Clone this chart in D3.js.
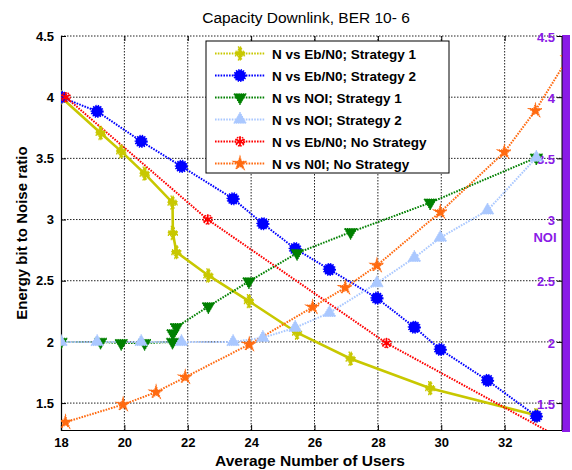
<!DOCTYPE html>
<html><head><meta charset="utf-8">
<script src="https://cdn.jsdelivr.net/npm/d3@7"></script>
<style>
body{margin:0;background:#fff;}
svg text{font-family:"Liberation Sans",Arial,sans-serif;}
</style></head>
<body><svg id="c" width="572" height="470"></svg>
<script>
// ---- data ----
const xTicks = [18,20,22,24,26,28,30,32];
const yTicks = [1.5,2,2.5,3,3.5,4,4.5];
const rightTicks = [1.5,2,2.5,3,3.5,4,4.5];
const legendLabels = ["N vs Eb/N0; Strategy 1","N vs Eb/N0; Strategy 2","N vs NOI; Strategy 1","N vs NOI; Strategy 2","N vs Eb/N0; No Strategy","N vs N0I; No Strategy"];

const usersS1 = [18, 19.25, 19.9, 20.64, 21.52, 21.53, 21.64, 22.65, 23.93, 25.45, 27.14, 29.65, 33.0];
const ebS1 = [4.0, 3.707, 3.557, 3.375, 3.138, 2.89, 2.734, 2.543, 2.333, 2.075, 1.862, 1.622, 1.40];
const noiS1 = [2.0, 2.0, 1.99, 1.99, 2.0, 2.07, 2.12, 2.29, 2.494, 2.726, 2.897, 3.138, 3.506];

const usersS2 = [18, 19.14, 20.53, 21.8, 23.43, 24.37, 25.39, 26.47, 27.97, 29.15, 29.97, 31.46, 33.0];
const ebS2 = [4.0, 3.884, 3.639, 3.435, 3.17, 2.966, 2.762, 2.592, 2.358, 2.12, 1.938, 1.685, 1.393];
const noiS2 = [2.0, 2.0, 2.0, 2.0, 2.0, 2.034, 2.116, 2.238, 2.48, 2.688, 2.852, 3.075, 3.506];

const usersNoEb = [18.15, 22.63, 28.27, 34.0];
const ebNo = [4.0, 3.0, 1.99, 1.18];

const usersNoNoi = [18.14, 19.96, 21.0, 21.92, 23.94, 25.94, 26.97, 27.97, 29.97, 31.99, 32.97, 34.0];
const noiNo = [1.344, 1.488, 1.589, 1.712, 1.979, 2.284, 2.443, 2.625, 3.061, 3.551, 3.89, 4.32];

// ---- layout ----
const svg = d3.select("#c");
const L = 61, R = 562, T = 36, B = 430;
const x = d3.scaleLinear().domain([18, 33.81]).range([L, R]);
const y = d3.scaleLinear().domain([1.28, 4.5]).range([B, T]);
const yR = d3.scaleLinear().domain([1.28, 4.5]).range([B, T]);
const PURPLE = "#8a1be6";

svg.append("defs").append("clipPath").attr("id","clip")
  .append("rect").attr("x",L).attr("y",T).attr("width",R-L).attr("height",B-T);

// grid
const grid = svg.append("g").attr("stroke","#222").attr("stroke-width",1).attr("stroke-dasharray","1.5,1.5");
xTicks.forEach(t=>{ if(t>18) grid.append("line").attr("x1",x(t)).attr("x2",x(t)).attr("y1",T).attr("y2",B); });
yTicks.forEach(t=>{ grid.append("line").attr("x1",L).attr("x2",R).attr("y1",y(t)).attr("y2",y(t)); });

// axes
const gx = svg.append("g").attr("transform",`translate(0,${B})`)
  .call(d3.axisBottom(x).tickValues(xTicks).tickSize(-5).tickPadding(8).tickFormat(d3.format("d")));
const gxt = svg.append("g").attr("transform",`translate(0,${T})`)
  .call(d3.axisTop(x).tickValues(xTicks).tickSize(-5).tickFormat(""));
gxt.select(".domain").remove();
const gy = svg.append("g").attr("transform",`translate(${L},0)`)
  .call(d3.axisLeft(y).tickValues(yTicks).tickSize(-5).tickPadding(7).tickFormat(d=>d3.format("")(d)));
const gr = svg.append("g").attr("transform",`translate(${R},0)`)
  .call(d3.axisLeft(yR).tickValues(rightTicks).tickSize(5).tickPadding(2).tickFormat(d=>d3.format("")(d)));
[gx,gy,gr].forEach(g=>{
  g.selectAll("text").attr("font-size",13).attr("font-weight","bold").attr("fill","#000");
  g.selectAll("line").attr("stroke","#000");
  g.select(".domain").attr("stroke","#000").attr("stroke-width",1.2);
});
gr.selectAll("text").attr("fill",PURPLE).attr("dy","0.4em").attr("font-size",13);
gxt.selectAll("line").attr("stroke","#000");
gr.select(".domain").remove();

// purple bar
svg.append("rect").attr("x",R).attr("y",T-1).attr("width",8).attr("height",B-T+3).attr("fill",PURPLE);
svg.append("line").attr("x1",R).attr("x2",R).attr("y1",T).attr("y2",B).attr("stroke","#000").attr("stroke-width",1);

// series
const line = d3.line().x(d=>x(d[0])).y(d=>y(d[1]));
const plot = svg.append("g").attr("clip-path","url(#clip)");

const series = [
  {xs:usersS1, ys:ebS1, color:"#c8c800", solid:true, m:"yellow"},
  {xs:usersS2, ys:ebS2, color:"#0000ff", m:"circle"},
  {xs:usersS1, ys:noiS1, color:"#008000", m:"tdown"},
  {xs:usersS2, ys:noiS2, color:"#aac8ff", m:"tup"},
  {xs:usersNoEb, ys:ebNo, color:"#ff0000", m:"aster"},
  {xs:usersNoNoi, ys:noiNo, color:"#ff6a10", m:"star"}
];
function drawMarker(g, s, px, py){
  const mg = g.append("g").attr("transform",`translate(${px},${py})`);
  if(s.m==="circle"){
    mg.append("circle").attr("r",5.6).attr("fill",s.color)
      .attr("stroke",s.color).attr("stroke-width",2).attr("stroke-dasharray","1.2,1.2");
  } else if(s.m==="yellow"){
    mg.append("path").attr("d",d3.symbol().type(d3.symbolCross).size(60)()).attr("fill",s.color)
      .attr("stroke",s.color).attr("stroke-width",1.6).attr("stroke-dasharray","1.2,1").attr("transform","scale(0.85,1.2)");
  } else if(s.m==="tdown"){
    mg.append("path").attr("d",d3.symbol().type(d3.symbolTriangle).size(70)()).attr("fill",s.color)
      .attr("stroke",s.color).attr("stroke-width",1).attr("stroke-dasharray","1.2,1").attr("transform","rotate(180)");
  } else if(s.m==="tup"){
    mg.append("path").attr("d",d3.symbol().type(d3.symbolTriangle).size(70)()).attr("fill",s.color)
      .attr("stroke",s.color).attr("stroke-width",1).attr("stroke-dasharray","1.2,1");
  } else if(s.m==="aster"){
    mg.append("path").attr("d",d3.symbol().type(d3.symbolAsterisk).size(60)()).attr("fill","none").attr("stroke",s.color).attr("stroke-width",1.8);
    mg.append("circle").attr("r",4.5).attr("fill","none").attr("stroke",s.color).attr("stroke-width",1.5).attr("stroke-dasharray","1.5,1");
  } else if(s.m==="star"){
    mg.append("path").attr("d",d3.symbol().type(d3.symbolStar).size(55)()).attr("fill",s.color)
      .attr("stroke",s.color).attr("stroke-width",1.2).attr("stroke-dasharray","1.2,1");
  }
}
series.forEach(s=>{
  const pts = s.xs.map((v,i)=>[v,s.ys[i]]);
  plot.append("path").datum(pts).attr("d",line).attr("fill","none")
    .attr("stroke",s.color).attr("stroke-width",s.solid?2.6:2)
    .attr("stroke-dasharray",s.solid?null:"1.6,1.2");
});
series.forEach(s=>{
  s.xs.forEach((v,i)=>drawMarker(plot, s, x(v), y(s.ys[i])));
});

// legend
const lg = svg.append("g");
lg.append("rect").attr("x",206).attr("y",41).attr("width",243).attr("height",132)
  .attr("fill","#fff").attr("stroke","#000").attr("stroke-width",1);
legendLabels.forEach((lab,i)=>{
  const yy = 53.5 + i*22;
  const s = series[i];
  lg.append("line").attr("x1",215).attr("x2",265).attr("y1",yy).attr("y2",yy)
    .attr("stroke",s.color).attr("stroke-width",2).attr("stroke-dasharray","1.6,1.2");
  drawMarker(lg, s, 240, yy);
  lg.append("text").attr("x",272).attr("y",yy+5).attr("font-size",13.5).attr("font-weight","bold").text(lab);
});

// titles
svg.append("text").attr("x",306).attr("y",23).attr("text-anchor","middle").attr("font-size",15.5).text("Capacity Downlink, BER 10- 6");
svg.append("text").attr("x",310).attr("y",466).attr("text-anchor","middle").attr("font-size",15.5).attr("font-weight","bold").text("Average Number of Users");
svg.append("text").attr("transform","translate(27,233) rotate(-90)").attr("text-anchor","middle").attr("font-size",15).attr("font-weight","bold").text("Energy bit to Noise ratio");
svg.append("text").attr("x",545).attr("y",242).attr("text-anchor","middle").attr("font-size",13).attr("font-weight","bold").attr("fill",PURPLE).text("NOI");
</script></body></html>
